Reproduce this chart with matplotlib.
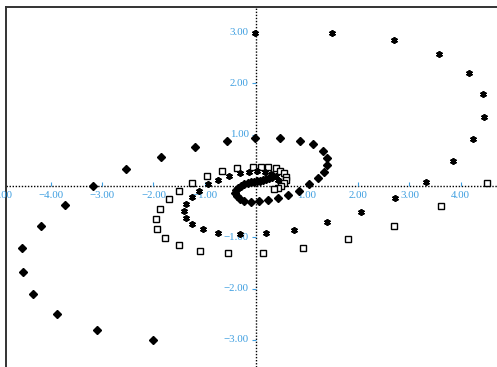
import matplotlib
matplotlib.use("Agg")
import matplotlib.pyplot as plt
from matplotlib import transforms

# -------------------------
# data
# -------------------------

diamond_x = [-2.01, -3.11, -3.89, -4.36, -4.55, -4.57, -4.20, -3.73, -3.18, -2.54,
             -1.86, -1.19, -0.57, -0.02, 0.47, 0.86, 1.11, 1.31, 1.39, 1.39,
             1.33, 1.21, 1.04, 0.84, 0.63, 0.43, 0.23, 0.06, -0.10, -0.23,
             -0.31, -0.37, -0.41, -0.39, -0.35, -0.29, -0.23, -0.16, -0.10, -0.04,
             0.02, 0.08, 0.14, 0.20, 0.26, 0.32]
diamond_y = [-3.00, -2.81, -2.50, -2.11, -1.68, -1.21, -0.78, -0.37, 0.00, 0.33,
             0.57, 0.76, 0.88, 0.94, 0.94, 0.88, 0.82, 0.68, 0.55, 0.41,
             0.27, 0.16, 0.04, -0.10, -0.18, -0.23, -0.27, -0.29, -0.31, -0.29,
             -0.25, -0.20, -0.14, -0.08, -0.04, 0.00, 0.03, 0.05, 0.07, 0.08,
             0.09, 0.10, 0.12, 0.14, 0.16, 0.18]

square_x = [4.51, 3.61, 2.70, 1.80, 0.92, 0.14, -0.55, -1.09, -1.50, -1.78,
            -1.93, -1.95, -1.88, -1.70, -1.50, -1.25, -0.96, -0.66, -0.37, -0.06,
            0.10, 0.23, 0.39, 0.47, 0.55, 0.59, 0.59, 0.55, 0.49, 0.43, 0.35]
square_y = [0.06, -0.39, -0.78, -1.03, -1.21, -1.31, -1.31, -1.27, -1.15, -1.01,
            -0.84, -0.64, -0.45, -0.25, -0.10, 0.06, 0.19, 0.29, 0.35, 0.37,
            0.37, 0.37, 0.35, 0.29, 0.25, 0.18, 0.12, 0.06, 0.00, -0.04, -0.06]

star_x = [-0.02, 1.48, 2.70, 3.57, 4.16, 4.43, 4.45, 4.24, 3.85, 3.32,
          2.71, 2.05, 1.39, 0.74, 0.20, -0.31, -0.74, -1.04, -1.25, -1.37,
          -1.41, -1.37, -1.25, -1.11, -0.94, -0.74, -0.53, -0.31, -0.14, 0.02,
          0.18, 0.29, 0.39, 0.43]
star_y = [2.98, 2.98, 2.85, 2.57, 2.20, 1.79, 1.35, 0.92, 0.49, 0.08,
          -0.23, -0.51, -0.70, -0.86, -0.92, -0.94, -0.92, -0.84, -0.74, -0.62,
          -0.49, -0.35, -0.21, -0.10, 0.04, 0.12, 0.19, 0.25, 0.27, 0.29,
          0.27, 0.23, 0.19, 0.12]

x_ticks = [-5, -4, -3, -2, -1, 1, 2, 3, 4]
y_ticks = [-3, -2, -1, 1, 2, 3]

label_color = "#3d9ee0"

# -------------------------
# figure
# -------------------------

fig = plt.figure(figsize=(4.97, 3.67), dpi=100)
ax = fig.add_axes([6 / 497, 0, 491 / 497, 360 / 367])

ax.set_xlim(-4.88, 4.71)
ax.set_ylim(-3.53, 3.49)
ax.set_xticks([])
ax.set_yticks([])

for side in ["right", "bottom"]:
    ax.spines[side].set_visible(False)
for side in ["top", "left"]:
    ax.spines[side].set_color("#333333")
    ax.spines[side].set_linewidth(1.4)

# dotted axes through origin
ax.axhline(0, color="black", lw=1, dashes=(1, 1.2), zorder=1)
ax.axvline(0, color="black", lw=1, dashes=(1, 1.2), zorder=1)

# small tick marks
ax.plot(x_ticks, [0] * len(x_ticks), ls="none", marker=2,
        ms=3, mew=0.8, color=label_color, zorder=1)
ax.plot([0] * len(y_ticks), y_ticks, ls="none", marker=0,
        ms=3, mew=0.8, color=label_color, zorder=1)

# tick labels (the -5 one sits on the figure edge, only its last digit shows)
font = dict(family="Liberation Serif", size=7.8, color=label_color)
below = transforms.offset_copy(ax.transData, fig=fig, x=0, y=-5, units="dots")
left = transforms.offset_copy(ax.transData, fig=fig, x=-7, y=0, units="dots")

for v in x_ticks:
    ax.text(v, 0, f"{v:.2f}".replace("-", "\u2212"), transform=below,
            ha="center", va="top", clip_on=False, **font)

for v in y_ticks:
    ax.text(0, v, f"{v:.2f}".replace("-", "\u2212"), transform=left,
            ha="right", va="center", clip_on=False, **font)

# -------------------------
# series
# -------------------------

ax.plot(diamond_x, diamond_y, ls="none", marker="D", ms=3.6,
        color="black", zorder=3)
ax.plot(square_x, square_y, ls="none", marker="s", ms=4.3,
        mfc="white", mec="black", mew=1.0, zorder=3)
ax.plot(star_x, star_y, ls="none", marker=(6, 2, 0), ms=4.8,
        color="black", mew=1.3, zorder=3)

fig.savefig("out.png", dpi=100)
